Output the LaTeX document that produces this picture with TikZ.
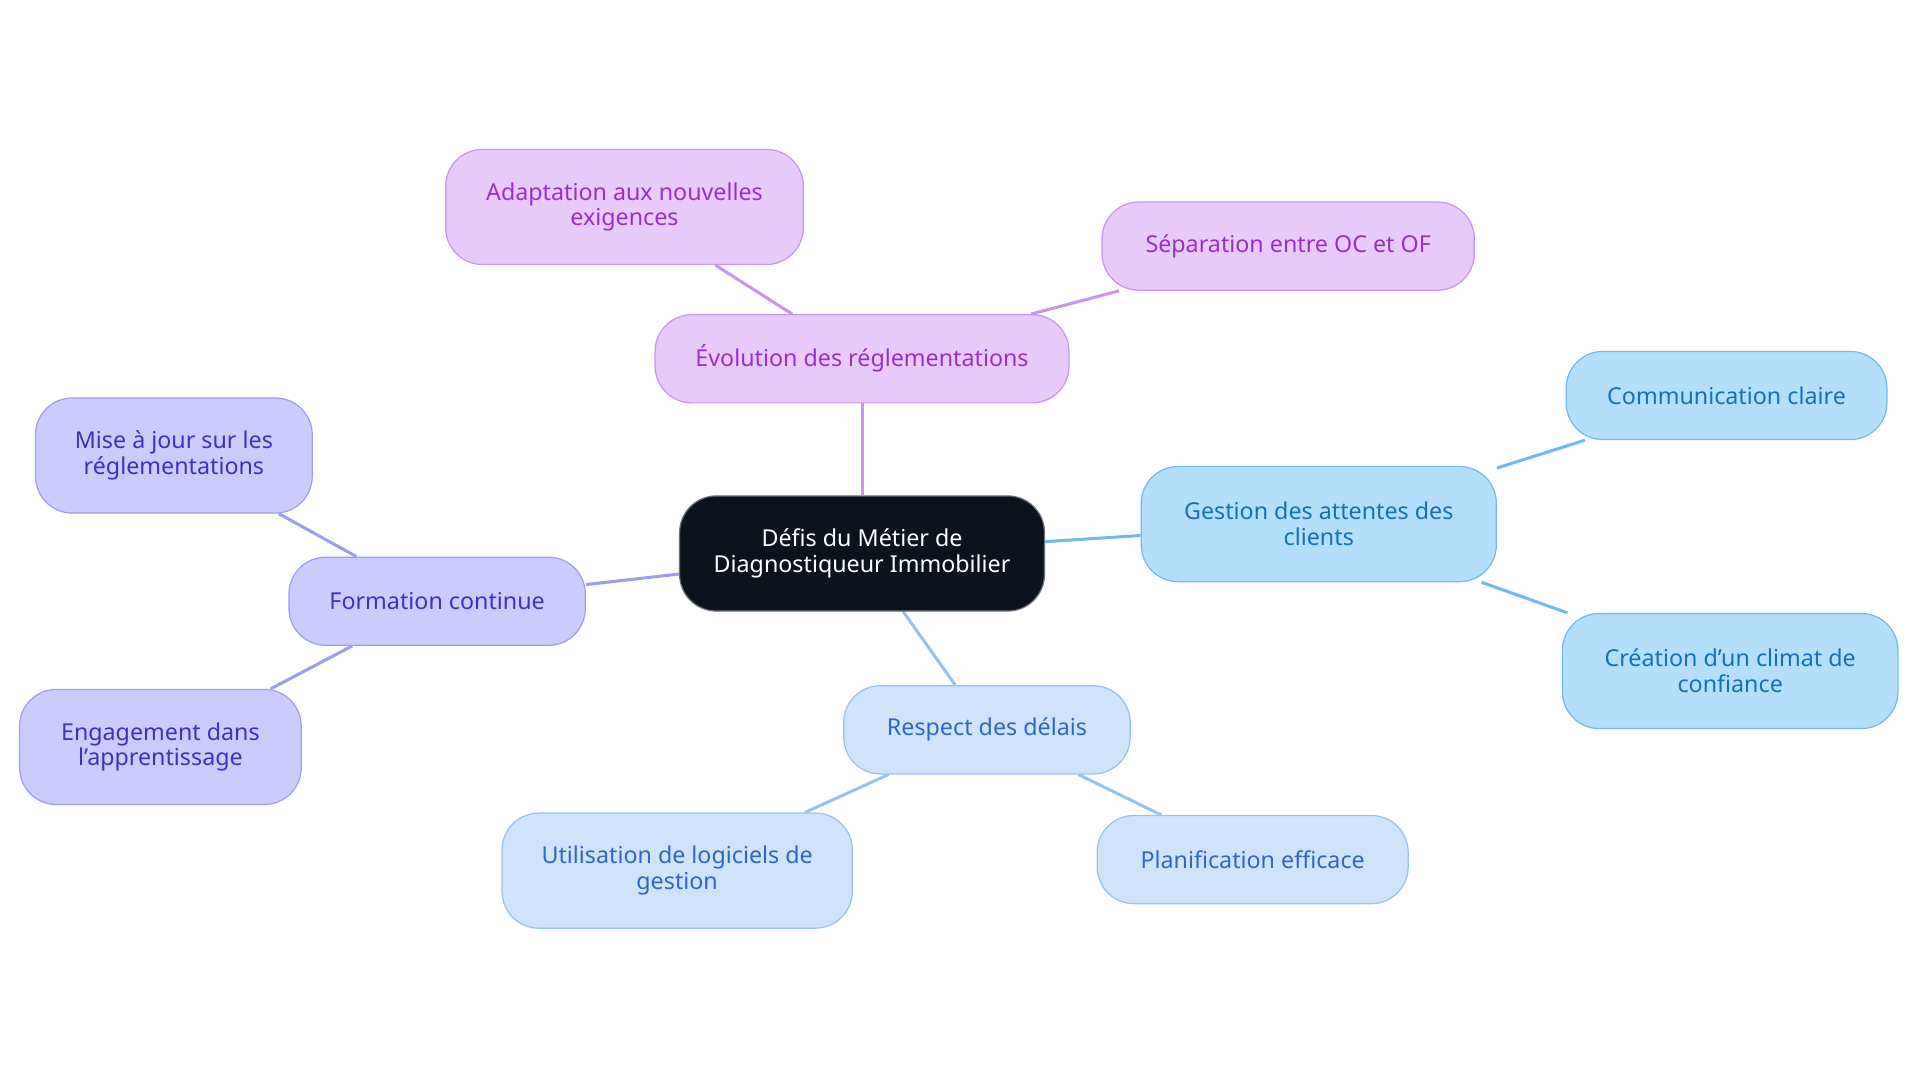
\documentclass[tikz,border=0pt]{standalone}
\usepackage{fontspec}
\setmainfont{Noto Sans}
\usetikzlibrary{backgrounds}
\definecolor{cdark}{HTML}{0D131C}
\definecolor{pfill}{HTML}{E8CAFD}\definecolor{pline}{HTML}{C995EE}\definecolor{ptext}{HTML}{9630CC}
\definecolor{bfill}{HTML}{B4DFFC}\definecolor{bline}{HTML}{70BBEE}\definecolor{btext}{HTML}{1670B8}
\definecolor{lfill}{HTML}{CFE3FB}\definecolor{lline}{HTML}{98C3EF}\definecolor{ltext}{HTML}{2E68C4}
\definecolor{vfill}{HTML}{CBCCFD}\definecolor{vline}{HTML}{9D9EEF}\definecolor{vtext}{HTML}{3A33C2}
\tikzset{
 box/.style={draw, line width=1pt, rounded corners=30pt, align=center, font=\fontsize{19pt}{21pt}\selectfont, inner sep=0pt},
 ctr/.style={box, fill=cdark, draw=cdark!60, text=white},
 pb/.style={box, fill=pfill, draw=pline, text=ptext},
 bb/.style={box, fill=bfill, draw=bline, text=btext},
 lb/.style={box, fill=lfill, draw=lline, text=ltext},
 vb/.style={box, fill=vfill, draw=vline, text=vtext},
 ed/.style={line width=2.5pt},
}
\begin{document}
\begin{tikzpicture}[x=1pt,y=-1pt]
\useasboundingbox (0,0) rectangle (1568,884);
\node[ctr, minimum width=298pt, minimum height=94pt] (c) at (704,452) {Défis du Métier de\\Diagnostiqueur Immobilier};
\node[pb, minimum width=338pt, minimum height=72pt] (e) at (704,293) {Évolution des réglementations};
\node[pb, minimum width=292pt, minimum height=94pt] (e1) at (510,169) {Adaptation aux nouvelles\\exigences};
\node[pb, minimum width=304pt, minimum height=72pt] (e2) at (1052,201) {Séparation entre OC et OF};
\node[bb, minimum width=290pt, minimum height=94pt] (g) at (1077,428) {Gestion des attentes des\\clients};
\node[bb, minimum width=262pt, minimum height=72pt] (g1) at (1410,323) {Communication claire};
\node[bb, minimum width=274pt, minimum height=94pt] (g2) at (1413,548) {Création d'un climat de\\confiance};
\node[lb, minimum width=234pt, minimum height=72pt] (r) at (806,596) {Respect des délais};
\node[lb, minimum width=286pt, minimum height=94pt] (r1) at (553,711) {Utilisation de logiciels de\\gestion};
\node[lb, minimum width=254pt, minimum height=72pt] (r2) at (1023,702) {Planification efficace};
\node[vb, minimum width=242pt, minimum height=72pt] (f) at (357,491) {Formation continue};
\node[vb, minimum width=226pt, minimum height=94pt] (f1) at (142,372) {Mise à jour sur les\\réglementations};
\node[vb, minimum width=230pt, minimum height=94pt] (f2) at (131,610) {Engagement dans\\l'apprentissage};
\begin{scope}[on background layer]
\draw[ed, pline] (c) -- (e); \draw[ed, pline] (e) -- (e1); \draw[ed, pline] (e) -- (e2);
\draw[ed, bline] (c) -- (g); \draw[ed, bline] (g) -- (g1); \draw[ed, bline] (g) -- (g2);
\draw[ed, lline] (c) -- (r); \draw[ed, lline] (r) -- (r1); \draw[ed, lline] (r) -- (r2);
\draw[ed, vline] (c) -- (f); \draw[ed, vline] (f) -- (f1); \draw[ed, vline] (f) -- (f2);
\end{scope}
\end{tikzpicture}
\end{document}
